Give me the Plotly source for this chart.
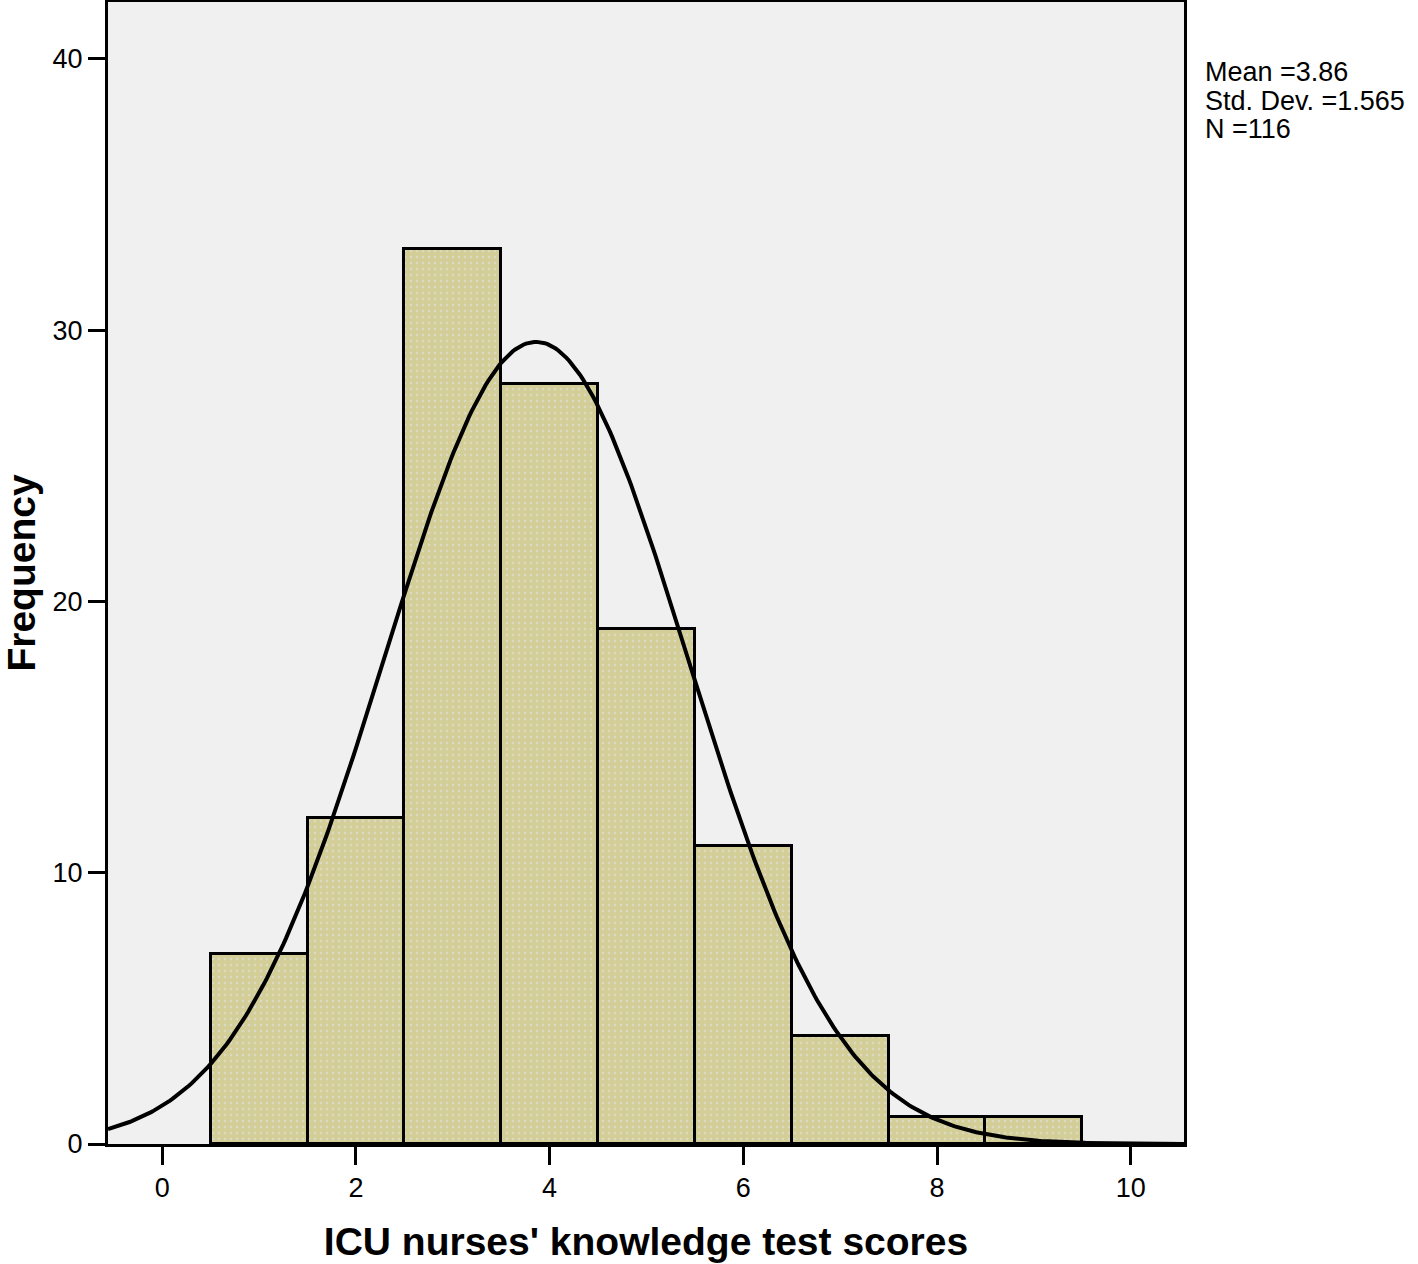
import numpy as np
import plotly.graph_objects as go

# histogram bins (bin centre) and counts
bin_centers = [1, 2, 3, 4, 5, 6, 7, 8, 9]
counts = [7, 12, 33, 28, 19, 11, 4, 1, 1]

# summary stats printed by SPSS
mean_val = 3.86
sd_val = 1.565
n_val = 116
bin_width = 1.0

x_ticks = [0, 2, 4, 6, 8, 10]
y_ticks = [0, 10, 20, 30, 40]

# fitted normal curve scaled to counts
x_curve = np.linspace(-0.56, 10.55, 400)
y_curve = n_val * bin_width / (sd_val * np.sqrt(2 * np.pi)) * np.exp(-0.5 * ((x_curve - mean_val) / sd_val) ** 2)

fig = go.Figure()

fig.add_trace(go.Bar(
    x=bin_centers, y=counts, width=bin_width,
    marker=dict(color="#D3CE97", line=dict(color="black", width=3),
                pattern=dict(shape=".", fgcolor="#e4e4ee", bgcolor="#D3CE97", size=6, solidity=0.15)),
    showlegend=False, hoverinfo="x+y",
))

fig.add_trace(go.Scatter(
    x=x_curve, y=y_curve, mode="lines",
    line=dict(color="black", width=4),
    showlegend=False, hoverinfo="skip",
))

fig.update_layout(
    width=1418, height=1264,
    margin=dict(l=108, r=234, t=2, b=120),
    paper_bgcolor="white",
    plot_bgcolor="#F0F0F0",
    font=dict(family="Liberation Sans, Arial, sans-serif", color="black"),
    bargap=0,
)

fig.update_xaxes(
    range=[-0.56, 10.55], tickvals=x_ticks, ticks="outside", ticklen=18, tickwidth=3,
    tickcolor="black", showgrid=False, zeroline=False,
    showline=True, linecolor="black", linewidth=3, mirror=True,
    tickfont=dict(size=27),
    title=dict(text="<b>ICU nurses' knowledge test scores</b>", font=dict(size=39), standoff=26),
    automargin=False,
)
fig.update_yaxes(
    range=[0, 42.1], tickvals=y_ticks, ticks="outside", ticklen=17, tickwidth=3,
    tickcolor="black", showgrid=False, zeroline=False,
    showline=True, linecolor="black", linewidth=3, mirror=True,
    tickfont=dict(size=27),
    title=dict(text="<b>Frequency</b>", font=dict(size=39), standoff=12),
    automargin=False,
)

# stats box, one line each for tighter spacing
stat_lines = [f"Mean ={mean_val:.2f}", f"Std. Dev. ={sd_val:.3f}", f"N ={n_val}"]
for i, line in enumerate(stat_lines):
    fig.add_annotation(
        xref="paper", yref="paper", x=1.0177, y=1 - (70 + 28.5 * i) / 1142,
        xanchor="left", yanchor="middle", align="left", showarrow=False,
        text=line, font=dict(size=27, color="black"),
    )

fig.write_html("out.html", config={"displayModeBar": False},
               post_script="document.body.style.margin='0';")
